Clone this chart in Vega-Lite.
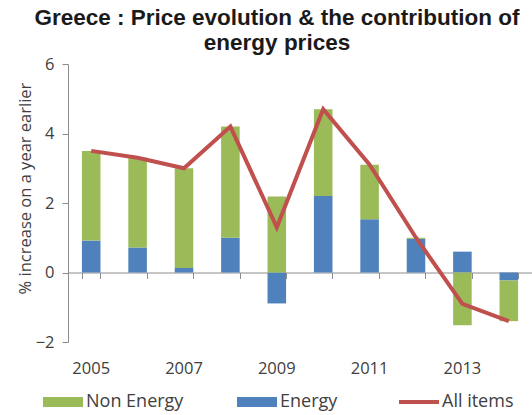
{
  "$schema": "https://vega.github.io/schema/vega-lite/v6.json",
  "width": 464,
  "height": 278,
  "autosize": {"type": "none"},
  "padding": {"left": 68, "top": 64, "right": 0, "bottom": 73},
  "background": "white",
  "title": {
    "text": ["Greece : Price evolution & the contribution of", "energy prices"],
    "font": "Liberation Sans",
    "fontSize": 22.5,
    "fontWeight": "bold",
    "color": "#1a1a1a",
    "anchor": "middle",
    "dx": -23,
    "offset": 2,
    "lineHeight": 25
  },
  "config": {
    "view": {"stroke": null},
    "axis": {
      "labelFont": "Open Sans",
      "labelFontSize": 16.5,
      "labelColor": "#404040",
      "domainColor": "#8c8c8c",
      "tickColor": "#8c8c8c",
      "grid": false
    }
  },
  "datasets": {
    "components": [
      {"year": 2005, "series": "Energy", "value": 0.92},
      {"year": 2005, "series": "Non Energy", "value": 2.58},
      {"year": 2006, "series": "Energy", "value": 0.72},
      {"year": 2006, "series": "Non Energy", "value": 2.59},
      {"year": 2007, "series": "Energy", "value": 0.13},
      {"year": 2007, "series": "Non Energy", "value": 2.87},
      {"year": 2008, "series": "Energy", "value": 1.0},
      {"year": 2008, "series": "Non Energy", "value": 3.2},
      {"year": 2009, "series": "Energy", "value": -0.89},
      {"year": 2009, "series": "Non Energy", "value": 2.19},
      {"year": 2010, "series": "Energy", "value": 2.2},
      {"year": 2010, "series": "Non Energy", "value": 2.5},
      {"year": 2011, "series": "Energy", "value": 1.53},
      {"year": 2011, "series": "Non Energy", "value": 1.57},
      {"year": 2012, "series": "Energy", "value": 0.97},
      {"year": 2012, "series": "Non Energy", "value": 0.03},
      {"year": 2013, "series": "Energy", "value": 0.6},
      {"year": 2013, "series": "Non Energy", "value": -1.52},
      {"year": 2014, "series": "Energy", "value": -0.23},
      {"year": 2014, "series": "Non Energy", "value": -1.17}
    ],
    "total": [
      {"year": 2005, "series": "All items", "value": 3.5},
      {"year": 2006, "series": "All items", "value": 3.3},
      {"year": 2007, "series": "All items", "value": 3.0},
      {"year": 2008, "series": "All items", "value": 4.2},
      {"year": 2009, "series": "All items", "value": 1.3},
      {"year": 2010, "series": "All items", "value": 4.7},
      {"year": 2011, "series": "All items", "value": 3.1},
      {"year": 2012, "series": "All items", "value": 1.0},
      {"year": 2013, "series": "All items", "value": -0.9},
      {"year": 2014, "series": "All items", "value": -1.4}
    ]
  },
  "layer": [
    {
      "data": {"name": "components"},
      "mark": {"type": "bar"},
      "encoding": {
        "x": {
          "field": "year",
          "type": "ordinal",
          "scale": {"paddingInner": 0.6, "paddingOuter": 0.3},
          "axis": {
            "orient": "bottom",
            "title": null,
            "domain": false,
            "ticks": false,
            "tickSize": 0,
            "labelAngle": 0,
            "labelPadding": 18,
            "labelExpr": "datum.value % 2 == 1 ? datum.label : ''"
          }
        },
        "y": {
          "field": "value",
          "type": "quantitative",
          "stack": "zero",
          "scale": {"domain": [-2, 6]},
          "axis": {
            "values": [-2, 0, 2, 4, 6],
            "title": "% increase on a year earlier",
            "titleFont": "Open Sans",
            "titleFontSize": 16.5,
            "titleFontWeight": "normal",
            "titleColor": "#404040",
            "tickSize": 6,
            "labelPadding": 8,
            "titlePadding": 2,
            "titleY": 124
          }
        },
        "color": {
          "field": "series",
          "type": "nominal",
          "scale": {
            "domain": ["Non Energy", "Energy", "All items"],
            "range": ["#9BBB59", "#4F81BD", "#C0504D"]
          },
          "legend": {
            "title": null,
            "orient": "none",
            "legendX": -14,
            "legendY": 329,
            "direction": "horizontal",
            "columns": 3,
            "columnPadding": 53,
            "labelFont": "Open Sans",
            "labelFontSize": 18,
            "labelColor": "#404040",
            "labelOffset": 14,
            "symbolSize": 1600,
            "encode": {
              "symbols": {
                "update": {
                  "shape": {"signal": "datum.value === 'All items' ? 'stroke' : 'M-1,-0.25H1V0.25H-1Z'"},
                  "fill": {"signal": "datum.value === 'All items' ? 'transparent' : scale('color', datum.value)"},
                  "stroke": {"signal": "scale('color', datum.value)"},
                  "strokeWidth": {"signal": "datum.value === 'All items' ? 4 : 0"},
                  "size": {"value": 1600},
                  "opacity": {"value": 1}
                }
              }
            }
          }
        },
        "order": {"field": "series", "sort": "ascending"}
      }
    },
    {
      "data": {"name": "total"},
      "mark": {"type": "line", "strokeWidth": 4},
      "encoding": {
        "x": {
          "field": "year",
          "type": "ordinal",
          "axis": {
            "orient": "bottom",
            "offset": -69.5,
            "title": null,
            "labels": false,
            "tickSize": 6,
            "tickBand": "extent"
          }
        },
        "y": {"field": "value", "type": "quantitative"},
        "color": {"field": "series", "type": "nominal"}
      }
    }
  ],
  "resolve": {"axis": {"x": "independent"}}
}
